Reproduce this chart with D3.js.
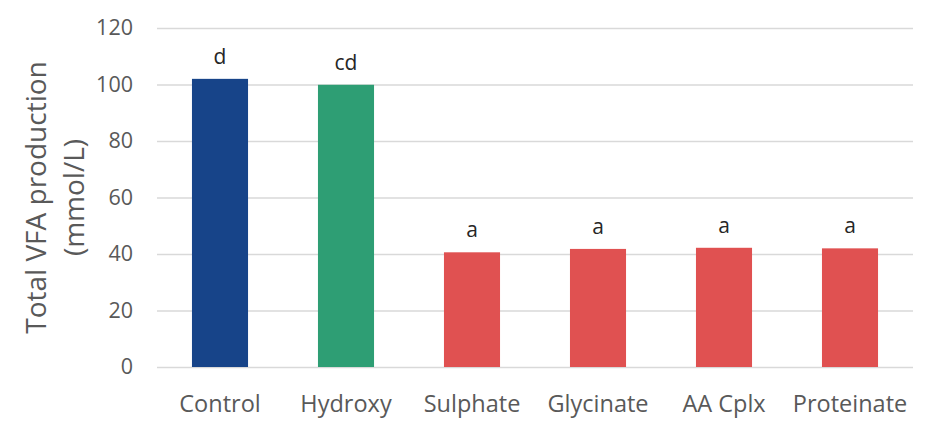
<!DOCTYPE html>
<html>
<head>
<meta charset="utf-8">
<script src="https://cdn.jsdelivr.net/npm/d3@7"></script>
<style>
  body { margin: 0; background: #fff; }
  text { font-family: "Open Sans", sans-serif; fill: #595959; }
</style>
</head>
<body>
<script>
// chart data
const categories = ['Control', 'Hydroxy', 'Sulphate', 'Glycinate', 'AA Cplx', 'Proteinate'];
const values = [102.0, 99.9, 40.6, 41.8, 42.2, 42.0];
const letters = ['d', 'cd', 'a', 'a', 'a', 'a'];
const barColors = ['#174489', '#2e9e74', '#e05151', '#e05151', '#e05151', '#e05151'];
const yTicks = [0, 20, 40, 60, 80, 100, 120];

const W = 944, H = 424;
const plotLeft = 157, plotRight = 913, plotTop = 28, plotBottom = 367;

const svg = d3.select('body').append('svg')
    .attr('width', W)
    .attr('height', H)
    .attr('viewBox', `0 0 ${W} ${H}`);

const x = d3.scaleBand()
    .domain(categories)
    .range([plotLeft, plotRight])
    .paddingInner(0.555)
    .paddingOuter(0.2775);

const y = d3.scaleLinear()
    .domain([0, 120])
    .range([plotBottom, plotTop]);

// gridlines
svg.append('g')
    .selectAll('line')
    .data(yTicks)
    .enter()
    .append('line')
    .attr('x1', plotLeft)
    .attr('x2', plotRight)
    .attr('y1', (d) => y(d) + 0.5)
    .attr('y2', (d) => y(d) + 0.5)
    .style('stroke', '#d9d9d9')
    .style('stroke-width', 1.3);

// y tick labels
const yAxis = svg.append('g')
    .attr('transform', `translate(${plotLeft - 24},0)`)
    .call(d3.axisLeft(y).tickValues(yTicks).tickSize(0).tickPadding(0));
yAxis.select('.domain').remove();
yAxis.selectAll('text')
    .style('font-size', '21.5px')
    .style('font-family', '"Open Sans", sans-serif')
    .style('fill', '#595959');

// x labels
const xAxis = svg.append('g')
    .attr('transform', `translate(0,${plotBottom})`)
    .call(d3.axisBottom(x).tickSize(0).tickPadding(0));
xAxis.select('.domain').remove();
xAxis.selectAll('text')
    .attr('dy', null)
    .attr('y', 45)
    .style('font-size', '23.5px')
    .style('font-family', '"Open Sans", sans-serif')
    .style('fill', '#595959');

// bars
svg.selectAll('rect.bar')
    .data(categories)
    .enter()
    .append('rect')
    .attr('class', 'bar')
    .attr('x', (d) => x(d))
    .attr('y', (d, i) => y(values[i]))
    .attr('width', x.bandwidth())
    .attr('height', (d, i) => y(0) - y(values[i]))
    .style('fill', (d, i) => barColors[i]);

// significance letters
svg.selectAll('text.sig')
    .data(categories)
    .enter()
    .append('text')
    .attr('class', 'sig')
    .attr('x', (d) => x(d) + x.bandwidth() / 2)
    .attr('y', (d, i) => y(values[i]) - 15)
    .attr('text-anchor', 'middle')
    .style('font-size', '21px')
    .style('fill', '#262626')
    .text((d, i) => letters[i]);

// y axis title
const title = svg.append('text')
    .attr('transform', `translate(46,${(plotTop + plotBottom) / 2}) rotate(-90)`)
    .attr('text-anchor', 'middle')
    .style('font-size', '28px');
title.append('tspan').attr('x', 0).attr('y', 0).text('Total VFA production');
title.append('tspan').attr('x', 0).attr('y', 38).text('(mmol/L)');
</script>
</body>
</html>
